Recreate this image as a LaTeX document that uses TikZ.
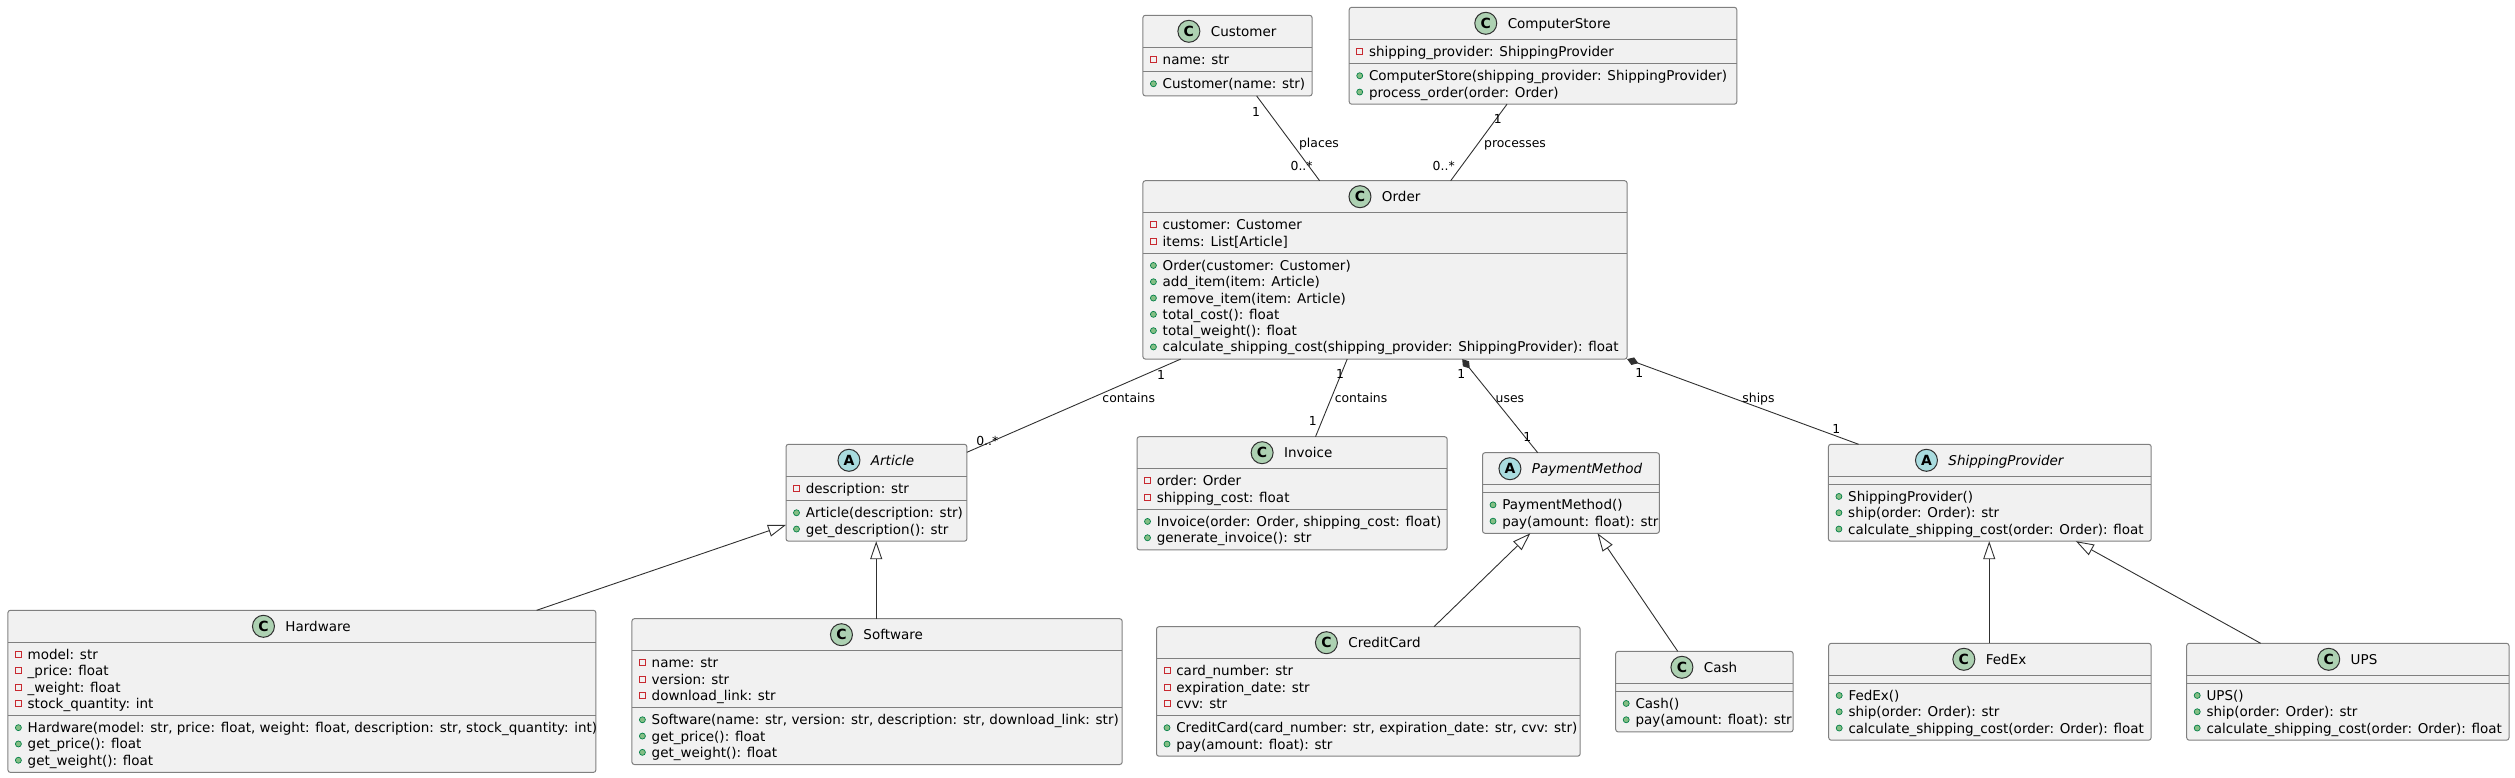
\documentclass[tikz,border=0pt]{standalone}
\usepackage{fontspec}
\setmainfont{DejaVu Sans}
\usepackage{tikz}
\usetikzlibrary{arrows.meta}
\usetikzlibrary{calc}
\usetikzlibrary{positioning}
\definecolor{boxfill}{HTML}{F1F1F1}
\definecolor{boxline}{HTML}{808080}
\definecolor{linecol}{HTML}{303030}
\definecolor{cgreen}{HTML}{ADD1B2}
\definecolor{ablue}{HTML}{A9DCDF}
\definecolor{privred}{HTML}{C82930}
\definecolor{pubfill}{HTML}{84BE84}
\definecolor{publine}{HTML}{038048}
\newcommand{\clsfont}{\fontsize{13.5}{16.3}\selectfont}
\newcommand{\lblfont}{\fontsize{12.4}{14}\selectfont}
\tikzset{cls/.style = {draw=boxline, fill=boxfill, line width=1pt, rounded corners=2.5pt,
                       anchor=north west, inner sep=0, outer sep=0}}
\tikzset{divider/.style = {draw=boxline, line width=1pt}}
\tikzset{assoc/.style = {draw=linecol, line width=0.9pt}}
\tikzset{comp/.style = {assoc, {Diamond[length=12pt, width=8pt]}-}}
\tikzset{inherit/.style = {assoc, -{Triangle[open, length=18pt, width=12pt, fill=white]}}}
\tikzset{ccirc/.style = {circle, draw=linecol, fill=cgreen, line width=1pt, minimum size=22pt,
                         inner sep=0, font=\fontsize{14}{14}\selectfont\bfseries}}
\tikzset{acirc/.style = {ccirc, fill=ablue}}
\tikzset{cname/.style = {inner sep=0, text height=10pt, text depth=0pt, font=\clsfont}}
\tikzset{member/.style = {anchor=base west, inner sep=0, font=\clsfont}}
\tikzset{privicon/.style = {draw=privred, line width=1pt, minimum size=6pt, inner sep=0}}
\tikzset{pubicon/.style = {circle, draw=publine, fill=pubfill, line width=0.7pt, minimum size=6pt, inner sep=0}}
\tikzset{lbl/.style = {anchor=base, inner sep=0, font=\lblfont}}
\newcommand{\priv}[4]{\node [privicon] (#1i) at (#2+10.5, #3) {}; \node [member] (#1) at (#2+19.6, #3+5) {#4};}
\newcommand{\publ}[4]{\node [pubicon] (#1i) at (#2+10.5, #3) {}; \node [member] (#1) at (#2+19.6, #3+5) {#4};}

\begin{document}
\begin{tikzpicture}[x=1pt, y=-1pt]
    \useasboundingbox (0, 0) rectangle (2515, 778);

    \node [cls, minimum width=169.2pt, minimum height=80.6pt] (customer) at (1142.9, 15.3) {};
    \node [cname] (customername) at ($(customer.north)+(16.15, 16)$) {Customer};
    \node [ccirc, left=10.3pt of customername] (customerbadge) {C};
    \draw [divider] (customer.west |- 0,47.3) -- (customer.east |- 0,47.3);
    \draw [divider] (customer.west |- 0,71.6) -- (customer.east |- 0,71.6);
    \priv{customera0}{1142.9}{59.45}{name: str}
    \publ{customerm0}{1142.9}{83.75}{Customer(name: str)}

    \node [cls, minimum width=387.6pt, minimum height=96.9pt] (store) at (1349.2, 7.3) {};
    \node [cname] (storename) at ($(store.north)+(16.15, 16)$) {ComputerStore};
    \node [ccirc, left=10.3pt of storename] (storebadge) {C};
    \draw [divider] (store.west |- 0,39.3) -- (store.east |- 0,39.3);
    \draw [divider] (store.west |- 0,63.6) -- (store.east |- 0,63.6);
    \priv{storea0}{1349.2}{51.45}{shipping\_provider: ShippingProvider}
    \foreach \t [count=\i from 0] in {{ComputerStore(shipping\_provider: ShippingProvider)},
                                      {process\_order(order: Order)}}
        \publ{storem\i}{1349.2}{75.75+16.3*\i}{\t};

    \node [cls, minimum width=484.2pt, minimum height=178.4pt] (order) at (1142.9, 180.7) {};
    \node [cname] (ordername) at ($(order.north)+(16.15, 16)$) {Order};
    \node [ccirc, left=10.3pt of ordername] (orderbadge) {C};
    \draw [divider] (order.west |- 0,212.7) -- (order.east |- 0,212.7);
    \draw [divider] (order.west |- 0,253.3) -- (order.east |- 0,253.3);
    \foreach \t [count=\i from 0] in {{customer: Customer}, {items: List[Article]}}
        \priv{ordera\i}{1142.9}{224.85+16.3*\i}{\t};
    \foreach \t [count=\i from 0] in {{Order(customer: Customer)}, {add\_item(item: Article)},
                                      {remove\_item(item: Article)}, {total\_cost(): float},
                                      {total\_weight(): float},
                                      {calculate\_shipping\_cost(shipping\_provider: ShippingProvider): float}}
        \publ{orderm\i}{1142.9}{265.45+16.3*\i}{\t};

    \node [cls, minimum width=180.9pt, minimum height=96.9pt] (article) at (786, 444.3) {};
    \node [cname, font=\clsfont\itshape] (articlename) at ($(article.north)+(16.15, 16)$) {Article};
    \node [acirc, left=10.3pt of articlename] (articlebadge) {A};
    \draw [divider] (article.west |- 0,476.3) -- (article.east |- 0,476.3);
    \draw [divider] (article.west |- 0,500.6) -- (article.east |- 0,500.6);
    \priv{articlea0}{786}{488.45}{description: str}
    \foreach \t [count=\i from 0] in {{Article(description: str)}, {get\_description(): str}}
        \publ{articlem\i}{786}{512.75+16.3*\i}{\t};

    \node [cls, minimum width=310.2pt, minimum height=113.2pt] (invoice) at (1137, 436.7) {};
    \node [cname] (invoicename) at ($(invoice.north)+(16.15, 16)$) {Invoice};
    \node [ccirc, left=10.3pt of invoicename] (invoicebadge) {C};
    \draw [divider] (invoice.west |- 0,468.7) -- (invoice.east |- 0,468.7);
    \draw [divider] (invoice.west |- 0,509.3) -- (invoice.east |- 0,509.3);
    \foreach \t [count=\i from 0] in {{order: Order}, {shipping\_cost: float}}
        \priv{invoicea\i}{1137}{480.85+16.3*\i}{\t};
    \foreach \t [count=\i from 0] in {{Invoice(order: Order, shipping\_cost: float)},
                                      {generate\_invoice(): str}}
        \publ{invoicem\i}{1137}{521.45+16.3*\i}{\t};

    \node [cls, minimum width=176.9pt, minimum height=80.6pt] (payment) at (1482.5, 452.7) {};
    \node [cname, font=\clsfont\itshape] (paymentname) at ($(payment.north)+(16.15, 16)$) {PaymentMethod};
    \node [acirc, left=10.3pt of paymentname] (paymentbadge) {A};
    \draw [divider] (payment.west |- 0,484.7) -- (payment.east |- 0,484.7);
    \draw [divider] (payment.west |- 0,492.7) -- (payment.east |- 0,492.7);
    \foreach \t [count=\i from 0] in {{PaymentMethod()}, {pay(amount: float): str}}
        \publ{paymentm\i}{1482.5}{504.85+16.3*\i}{\t};

    \node [cls, minimum width=322.8pt, minimum height=96.9pt] (shipping) at (1828.4, 444.3) {};
    \node [cname, font=\clsfont\itshape] (shippingname) at ($(shipping.north)+(16.15, 16)$) {ShippingProvider};
    \node [acirc, left=10.3pt of shippingname] (shippingbadge) {A};
    \draw [divider] (shipping.west |- 0,476.3) -- (shipping.east |- 0,476.3);
    \draw [divider] (shipping.west |- 0,484.3) -- (shipping.east |- 0,484.3);
    \foreach \t [count=\i from 0] in {{ShippingProvider()}, {ship(order: Order): str},
                                      {calculate\_shipping\_cost(order: Order): float}}
        \publ{shippingm\i}{1828.4}{496.45+16.3*\i}{\t};

    \node [cls, minimum width=588pt, minimum height=162.1pt] (hardware) at (7.9, 610.3) {};
    \node [cname] (hardwarename) at ($(hardware.north)+(16.15, 16)$) {Hardware};
    \node [ccirc, left=10.3pt of hardwarename] (hardwarebadge) {C};
    \draw [divider] (hardware.west |- 0,642.3) -- (hardware.east |- 0,642.3);
    \draw [divider] (hardware.west |- 0,715.5) -- (hardware.east |- 0,715.5);
    \foreach \t [count=\i from 0] in {{model: str}, {\_price: float}, {\_weight: float},
                                      {stock\_quantity: int}}
        \priv{hardwarea\i}{7.9}{654.45+16.3*\i}{\t};
    \foreach \t [count=\i from 0] in {{Hardware(model: str, price: float, weight: float, description: str, stock\_quantity: int)},
                                      {get\_price(): float}, {get\_weight(): float}}
        \publ{hardwarem\i}{7.9}{727.65+16.3*\i}{\t};

    \node [cls, minimum width=490.3pt, minimum height=145.8pt] (software) at (631.9, 618.7) {};
    \node [cname] (softwarename) at ($(software.north)+(16.15, 16)$) {Software};
    \node [ccirc, left=10.3pt of softwarename] (softwarebadge) {C};
    \draw [divider] (software.west |- 0,650.7) -- (software.east |- 0,650.7);
    \draw [divider] (software.west |- 0,707.6) -- (software.east |- 0,707.6);
    \foreach \t [count=\i from 0] in {{name: str}, {version: str}, {download\_link: str}}
        \priv{softwarea\i}{631.9}{662.85+16.3*\i}{\t};
    \foreach \t [count=\i from 0] in {{Software(name: str, version: str, description: str, download\_link: str)},
                                      {get\_price(): float}, {get\_weight(): float}}
        \publ{softwarem\i}{631.9}{719.75+16.3*\i}{\t};

    \node [cls, minimum width=423.7pt, minimum height=129.5pt] (card) at (1156.5, 626.7) {};
    \node [cname] (cardname) at ($(card.north)+(16.15, 16)$) {CreditCard};
    \node [ccirc, left=10.3pt of cardname] (cardbadge) {C};
    \draw [divider] (card.west |- 0,658.7) -- (card.east |- 0,658.7);
    \draw [divider] (card.west |- 0,715.6) -- (card.east |- 0,715.6);
    \foreach \t [count=\i from 0] in {{card\_number: str}, {expiration\_date: str}, {cvv: str}}
        \priv{carda\i}{1156.5}{670.85+16.3*\i}{\t};
    \foreach \t [count=\i from 0] in {{CreditCard(card\_number: str, expiration\_date: str, cvv: str)},
                                      {pay(amount: float): str}}
        \publ{cardm\i}{1156.5}{727.75+16.3*\i}{\t};

    \node [cls, minimum width=177.4pt, minimum height=80.6pt] (cash) at (1615.7, 651.3) {};
    \node [cname] (cashname) at ($(cash.north)+(16.15, 16)$) {Cash};
    \node [ccirc, left=10.3pt of cashname] (cashbadge) {C};
    \draw [divider] (cash.west |- 0,683.3) -- (cash.east |- 0,683.3);
    \draw [divider] (cash.west |- 0,691.3) -- (cash.east |- 0,691.3);
    \foreach \t [count=\i from 0] in {{Cash()}, {pay(amount: float): str}}
        \publ{cashm\i}{1615.7}{703.45+16.3*\i}{\t};

    \node [cls, minimum width=322.4pt, minimum height=96.9pt] (fedex) at (1828.7, 643.3) {};
    \node [cname] (fedexname) at ($(fedex.north)+(16.15, 16)$) {FedEx};
    \node [ccirc, left=10.3pt of fedexname] (fedexbadge) {C};
    \draw [divider] (fedex.west |- 0,675.3) -- (fedex.east |- 0,675.3);
    \draw [divider] (fedex.west |- 0,683.3) -- (fedex.east |- 0,683.3);
    \foreach \t [count=\i from 0] in {{FedEx()}, {ship(order: Order): str},
                                      {calculate\_shipping\_cost(order: Order): float}}
        \publ{fedexm\i}{1828.7}{695.45+16.3*\i}{\t};

    \node [cls, minimum width=322.3pt, minimum height=96.9pt] (ups) at (2186.7, 643.3) {};
    \node [cname] (upsname) at ($(ups.north)+(16.15, 16)$) {UPS};
    \node [ccirc, left=10.3pt of upsname] (upsbadge) {C};
    \draw [divider] (ups.west |- 0,675.3) -- (ups.east |- 0,675.3);
    \draw [divider] (ups.west |- 0,683.3) -- (ups.east |- 0,683.3);
    \foreach \t [count=\i from 0] in {{UPS()}, {ship(order: Order): str},
                                      {calculate\_shipping\_cost(order: Order): float}}
        \publ{upsm\i}{2186.7}{695.45+16.3*\i}{\t};

    % associations
    \draw [assoc] ($(customer.south west)+(113.7, 0)$) -- ($(order.north west)+(176.7, 0)$);
    \node [lbl] (placesone) at (1256, 116.2) {1};
    \node [lbl] (placeslbl) at (1319, 147.2) {places};
    \node [lbl] (placesmany) at (1301.6, 170.2) {0..*};

    \draw [assoc] ($(store.south west)+(157.8, 0)$) -- ($(order.north west)+(307.8, 0)$);
    \node [lbl] (processone) at (1497.7, 123.5) {1};
    \node [lbl] (processlbl) at (1515, 147.2) {processes};
    \node [lbl] (processmany) at (1443.7, 170.2) {0..*};

    \draw [assoc] ($(order.south west)+(37.8, 0)$) -- ($(article.north east)+(0, 8)$);
    \node [lbl] (itemsone) at (1161, 379.5) {1};
    \node [lbl] (itemslbl) at (1128.7, 402.2) {contains};
    \node [lbl] (itemsmany) at (987.3, 445.5) {0..*};

    \draw [assoc] ($(order.south west)+(204.3, 0)$) -- ($(invoice.north west)+(178.5, 0)$);
    \node [lbl] (invoiceone) at (1340, 378.8) {1};
    \node [lbl] (invoicelbl) at (1361, 402.2) {contains};
    \node [lbl] (invoicetwo) at (1312.9, 425.5) {1};

    \draw [comp] ($(order.south west)+(319.3, 0)$) -- ($(payment.north west)+(55.2, 0)$);
    \node [lbl] (usesone) at (1461.2, 378.8) {1};
    \node [lbl] (useslbl) at (1509.9, 402.2) {uses};
    \node [lbl] (usestwo) at (1527.3, 441.8) {1};

    \draw [comp] (order.south east) -- ($(shipping.north west)+(30.2, 0)$);
    \node [lbl] (shipsone) at (1639.2, 377.8) {1};
    \node [lbl] (shipslbl) at (1758.5, 402.2) {ships};
    \node [lbl] (shipstwo) at (1836.4, 433.5) {1};

    % generalisations
    \draw [inherit] ($(hardware.north west)+(528.7, 0)$) -- ($(article.south west)+(0, -16.3)$);
    \draw [inherit] ($(software.north west)+(244.3, 0)$) -- ($(article.south west)+(90.2, 0)$);
    \draw [inherit] ($(card.north west)+(277.5, 0)$) -- ($(payment.south west)+(47.8, 0)$);
    \draw [inherit] ($(cash.north west)+(62, 0)$) -- ($(payment.south west)+(115, 0)$);
    \draw [inherit] ($(fedex.north west)+(160.5, 0)$) -- ($(shipping.south west)+(160.8, 0)$);
    \draw [inherit] ($(ups.north west)+(73.9, 0)$) -- ($(shipping.south west)+(247.5, 0)$);

\end{tikzpicture}
\end{document}
